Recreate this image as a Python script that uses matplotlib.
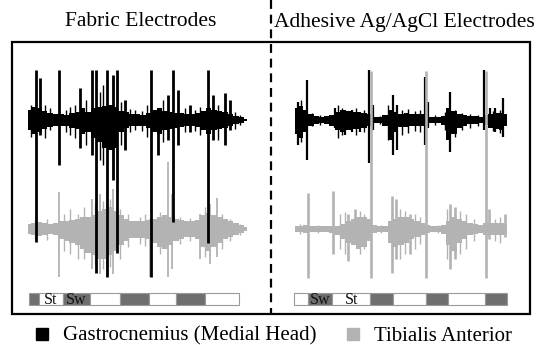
import matplotlib.pyplot as plt
from matplotlib.lines import Line2D
from matplotlib.patches import Rectangle
import numpy as np

plt.rcParams['font.family'] = ['Liberation Serif', 'DejaVu Serif']

# time grid of the envelopes (s), same for both recordings
t_env = np.arange(0, 10.01, 0.25)

# envelope of the dense EMG activity (mV above / below baseline)
fab_gm_up = [0.20, 0.26, 0.24, 0.18, 0.14, 0.12, 0.12, 0.10, 0.14, 0.16,
             0.24, 0.16, 0.24, 0.26, 0.28, 0.30, 0.26, 0.18, 0.16, 0.12,
             0.12, 0.10, 0.14, 0.20, 0.24, 0.18, 0.16, 0.14, 0.14, 0.12,
             0.12, 0.14, 0.18, 0.24, 0.20, 0.18, 0.16, 0.12, 0.08, 0.06, 0.02]
fab_gm_dn = [0.20, 0.28, 0.24, 0.18, 0.14, 0.12, 0.12, 0.12, 0.16, 0.18,
             0.28, 0.24, 0.36, 0.44, 0.56, 0.60, 0.56, 0.24, 0.16, 0.12,
             0.12, 0.12, 0.16, 0.24, 0.28, 0.20, 0.18, 0.16, 0.14, 0.12,
             0.12, 0.14, 0.20, 0.28, 0.20, 0.18, 0.16, 0.12, 0.08, 0.06, 0.02]
fab_ta_up = [0.10, 0.12, 0.14, 0.12, 0.10, 0.12, 0.16, 0.16, 0.18, 0.20,
             0.24, 0.24, 0.28, 0.36, 0.40, 0.44, 0.36, 0.28, 0.20, 0.16,
             0.16, 0.16, 0.18, 0.20, 0.24, 0.28, 0.24, 0.20, 0.18, 0.16,
             0.16, 0.18, 0.28, 0.32, 0.28, 0.24, 0.20, 0.16, 0.12, 0.08, 0.04]
fab_ta_dn = [0.10, 0.12, 0.14, 0.12, 0.10, 0.12, 0.20, 0.24, 0.28, 0.32,
             0.40, 0.48, 0.52, 0.60, 0.60, 0.52, 0.44, 0.32, 0.24, 0.18,
             0.18, 0.18, 0.20, 0.28, 0.36, 0.40, 0.32, 0.24, 0.20, 0.16,
             0.16, 0.20, 0.36, 0.44, 0.36, 0.28, 0.20, 0.16, 0.12, 0.08, 0.04]
adh_gm_up = [0.24, 0.28, 0.20, 0.12, 0.08, 0.06, 0.08, 0.10, 0.16, 0.20,
             0.18, 0.16, 0.16, 0.14, 0.12, 0.06, 0.06, 0.10, 0.20, 0.16,
             0.12, 0.14, 0.12, 0.12, 0.12, 0.06, 0.06, 0.06, 0.08, 0.24,
             0.18, 0.12, 0.10, 0.08, 0.08, 0.06, 0.10, 0.12, 0.14, 0.14, 0.12]
adh_gm_dn = [0.28, 0.36, 0.24, 0.12, 0.08, 0.06, 0.08, 0.12, 0.20, 0.24,
             0.20, 0.18, 0.18, 0.16, 0.12, 0.06, 0.06, 0.12, 0.40, 0.24,
             0.14, 0.14, 0.12, 0.12, 0.12, 0.06, 0.06, 0.06, 0.10, 0.40,
             0.28, 0.16, 0.12, 0.08, 0.08, 0.06, 0.10, 0.16, 0.18, 0.20, 0.12]
adh_ta_up = [0.06, 0.06, 0.08, 0.06, 0.06, 0.06, 0.06, 0.06, 0.06, 0.10,
             0.16, 0.20, 0.24, 0.24, 0.20, 0.08, 0.06, 0.06, 0.16, 0.20,
             0.24, 0.24, 0.20, 0.16, 0.12, 0.08, 0.06, 0.06, 0.08, 0.16,
             0.24, 0.20, 0.16, 0.12, 0.10, 0.08, 0.12, 0.12, 0.12, 0.12, 0.10]
adh_ta_dn = [0.06, 0.06, 0.08, 0.06, 0.06, 0.06, 0.06, 0.08, 0.12, 0.20,
             0.28, 0.32, 0.40, 0.36, 0.24, 0.08, 0.06, 0.06, 0.28, 0.36,
             0.32, 0.28, 0.20, 0.16, 0.12, 0.08, 0.06, 0.06, 0.10, 0.32,
             0.44, 0.28, 0.20, 0.12, 0.10, 0.08, 0.12, 0.12, 0.12, 0.12, 0.10]

# large isolated spikes: time (s), peak up (mV), peak down (mV)
fab_gm_spk_t = [0.37, 0.55, 1.42, 2.37, 2.92, 3.11, 3.61, 3.88, 4.06, 4.43,
                5.62, 5.94, 6.39, 6.62, 6.85, 7.40, 8.22, 8.45, 9.00, 9.22]
fab_gm_spk_up = [1.00, 0.84, 1.00, 0.64, 1.00, 1.00, 1.00, 0.90, 1.00, 0.40,
                 1.00, 0.20, 0.50, 1.00, 0.60, 0.30, 1.00, 0.50, 0.54, 0.40]
fab_gm_spk_dn = [2.44, 0.30, 0.90, 0.56, 0.70, 3.06, 3.14, 1.20, 2.66, 0.60,
                 3.14, 0.70, 0.40, 2.04, 0.50, 0.24, 2.46, 0.40, 0.50, 0.20]
fab_ta_spk_t = [1.42, 2.92, 3.29, 3.61, 3.88, 5.57, 6.39, 6.58, 7.85, 8.31, 8.63]
fab_ta_spk_up = [0.74, 0.60, 0.70, 1.20, 0.80, 0.20, 1.34, 0.70, 0.30, 0.50, 0.62]
fab_ta_spk_dn = [0.96, 0.80, 0.90, 0.96, 0.90, 0.96, 0.96, 0.80, 0.60, 0.70, 0.56]
adh_gm_spk_t = [0.14, 0.57, 1.89, 2.36, 2.69, 3.07, 3.49, 3.68, 4.62, 4.81,
                6.13, 6.27, 7.31, 8.92, 9.20, 9.43, 9.81]
adh_gm_spk_up = [0.36, 0.80, 0.24, 0.20, 0.20, 0.16, 1.00, 0.30, 0.50, 0.30,
                 0.86, 0.36, 0.56, 1.00, 0.24, 0.24, 0.44]
adh_gm_spk_dn = [0.50, 0.80, 0.16, 0.30, 0.24, 0.24, 0.86, 0.20, 0.70, 0.60,
                 0.50, 0.16, 0.64, 0.20, 0.16, 0.24, 0.34]
adh_ta_spk_t = [0.61, 1.79, 2.50, 2.83, 3.58, 4.58, 4.76, 5.42, 6.18, 7.31,
                7.55, 9.01, 9.15, 9.91]
adh_ta_spk_up = [0.72, 0.76, 0.30, 0.40, 3.16, 0.66, 0.60, 0.30, 3.16, 0.50,
                 0.44, 3.16, 0.40, 0.30]
adh_ta_spk_dn = [0.98, 0.50, 0.64, 0.30, 0.98, 0.88, 0.60, 0.50, 0.98, 0.80,
                 0.60, 0.98, 0.20, 0.16]

# small spikes along the edge of the dense activity
fab_gm_min_t = [0.14, 0.78, 1.00, 1.74, 1.92, 2.15, 2.65, 3.29, 3.42, 4.25, 4.66,
                4.89, 5.21, 5.43, 6.16, 7.17, 7.63, 7.85, 8.68, 9.45, 9.68]
fab_gm_min_up = [0.30, 0.30, 0.24, 0.20, 0.26, 0.30, 0.40, 0.56, 0.70, 0.36, 0.22,
                 0.20, 0.18, 0.30, 0.40, 0.24, 0.20, 0.26, 0.30, 0.16, 0.10]
fab_gm_min_dn = [0.34, 0.36, 0.20, 0.24, 0.30, 0.36, 0.50, 0.80, 0.90, 0.50, 0.24,
                 0.20, 0.22, 0.34, 0.44, 0.24, 0.22, 0.30, 0.40, 0.18, 0.10]
fab_ta_min_t = [0.32, 0.87, 1.64, 1.92, 2.28, 2.56, 3.06, 3.42, 3.74, 4.20,
                4.57, 5.11, 5.34, 6.03, 6.94, 7.40, 8.08, 8.86, 9.22, 9.68]
fab_ta_min_up = [0.18, 0.20, 0.30, 0.40, 0.30, 0.44, 0.50, 0.56, 0.60, 0.40,
                 0.30, 0.24, 0.30, 0.34, 0.24, 0.22, 0.44, 0.30, 0.20, 0.10]
fab_ta_min_dn = [0.20, 0.22, 0.44, 0.50, 0.60, 0.60, 0.70, 0.80, 0.76, 0.60,
                 0.36, 0.30, 0.34, 0.50, 0.30, 0.24, 0.56, 0.40, 0.24, 0.12]
adh_gm_min_t = [0.28, 0.80, 1.18, 2.03, 2.22, 2.88, 3.25, 4.01, 4.39, 5.05, 5.33,
                5.66, 5.90, 6.60, 7.08, 7.55, 7.88, 8.25, 8.63, 9.34, 9.67]
adh_gm_min_up = [0.40, 0.14, 0.10, 0.30, 0.24, 0.24, 0.20, 0.08, 0.30, 0.20, 0.22,
                 0.18, 0.20, 0.10, 0.16, 0.20, 0.14, 0.12, 0.10, 0.18, 0.20]
adh_gm_min_dn = [0.44, 0.12, 0.10, 0.36, 0.30, 0.30, 0.24, 0.08, 0.40, 0.30, 0.26,
                 0.22, 0.24, 0.10, 0.20, 0.34, 0.20, 0.16, 0.12, 0.22, 0.26]
adh_ta_min_t = [0.24, 1.08, 2.12, 2.36, 3.07, 3.25, 4.06, 4.95, 5.19, 5.66,
                5.90, 6.75, 7.17, 7.78, 8.07, 8.44, 9.43, 9.67]
adh_ta_min_up = [0.10, 0.08, 0.30, 0.34, 0.36, 0.30, 0.08, 0.40, 0.36, 0.30,
                 0.24, 0.08, 0.40, 0.36, 0.30, 0.20, 0.20, 0.24]
adh_ta_min_dn = [0.10, 0.08, 0.40, 0.50, 0.50, 0.40, 0.08, 0.60, 0.50, 0.40,
                 0.30, 0.08, 0.60, 0.50, 0.40, 0.24, 0.24, 0.28]

# gait phases (start times in s, last entry is the end)
fab_phase_t = [0.05, 0.50, 1.60, 2.83, 4.20, 5.53, 6.76, 8.08, 9.63]
fab_phase = ['Sw', 'St', 'Sw', 'St', 'Sw', 'St', 'Sw', 'St']
fab_phase_lbl = ['', 'St', 'Sw', '', '', '', '', '']
adh_phase_t = [-0.05, 0.61, 1.75, 3.54, 4.62, 6.18, 7.22, 8.96, 10.0]
adh_phase = ['St', 'Sw', 'St', 'Sw', 'St', 'Sw', 'St', 'Sw']
adh_phase_lbl = ['', 'Sw', 'St', '', '', '', '', '']

TA_OFFSET = -2.18
GM_COLOR = '#000000'
TA_COLOR = '#b3b3b3'
SW_COLOR = '#6f6f6f'

W, H = 536, 345
fig = plt.figure(figsize=(W / 100, H / 100), dpi=100)
fig.patch.set_facecolor('white')


def px_rect(x0, y0, x1, y1):
    return [x0 / W, 1 - y1 / H, (x1 - x0) / W, (y1 - y0) / H]


def spikes(ax, t, up, dn, offset, color, lw, z):
    ax.vlines(t, offset - np.array(dn), offset + np.array(up),
              color=color, lw=lw, zorder=z)


def draw_trace(ax, up, dn, minor, major, offset, color, lw, z):
    ax.fill_between(t_env, offset + np.array(up), offset - np.array(dn),
                    step='mid', color=color, lw=0, zorder=z)
    spikes(ax, *minor, offset, color, 1.0, z)
    spikes(ax, *major, offset, color, lw, z)


def draw_gait(ax, times, phases, labels):
    for i in range(len(phases)):
        c = SW_COLOR if phases[i] == 'Sw' else 'white'
        ax.barh(0.5, times[i + 1] - times[i], left=times[i], height=1,
                color=c, edgecolor='#9a9a9a', lw=0.8, clip_on=False)
        if labels[i]:
            ax.text((times[i] + times[i + 1]) / 2, 0.45, labels[i],
                    ha='center', va='center', fontsize=11.5, color='#111111')
    ax.set_xlim(0, 10)
    ax.set_ylim(0, 1)
    ax.axis('off')


# fabric electrodes
ax1 = fig.add_axes(px_rect(28, 55, 247, 290))
draw_trace(ax1, fab_ta_up, fab_ta_dn,
           (fab_ta_min_t, fab_ta_min_up, fab_ta_min_dn),
           (fab_ta_spk_t, fab_ta_spk_up, fab_ta_spk_dn),
           TA_OFFSET, TA_COLOR, 1.3, 1)
draw_trace(ax1, fab_gm_up, fab_gm_dn,
           (fab_gm_min_t, fab_gm_min_up, fab_gm_min_dn),
           (fab_gm_spk_t, fab_gm_spk_up, fab_gm_spk_dn),
           0, GM_COLOR, 2.0, 2)
ax1.set_xlim(0, 10)
ax1.set_ylim(-3.4, 1.3)
ax1.axis('off')

# adhesive Ag/AgCl electrodes
ax2 = fig.add_axes(px_rect(295, 55, 507, 290))
draw_trace(ax2, adh_gm_up, adh_gm_dn,
           (adh_gm_min_t, adh_gm_min_up, adh_gm_min_dn),
           (adh_gm_spk_t, adh_gm_spk_up, adh_gm_spk_dn),
           0, GM_COLOR, 1.6, 1)
draw_trace(ax2, adh_ta_up, adh_ta_dn,
           (adh_ta_min_t, adh_ta_min_up, adh_ta_min_dn),
           (adh_ta_spk_t, adh_ta_spk_up, adh_ta_spk_dn),
           TA_OFFSET, TA_COLOR, 1.9, 2)
ax2.set_xlim(0, 10)
ax2.set_ylim(-3.4, 1.3)
ax2.axis('off')

g1 = fig.add_axes(px_rect(28, 293, 247, 305))
draw_gait(g1, fab_phase_t, fab_phase, fab_phase_lbl)
g2 = fig.add_axes(px_rect(295, 293, 507, 305))
draw_gait(g2, adh_phase_t, adh_phase, adh_phase_lbl)

# frame, divider and headings
fig.patches.append(Rectangle((12 / W, 1 - 314 / H), 518 / W, 272 / H,
                             transform=fig.transFigure, fill=False,
                             ec='black', lw=1.6))
fig.lines.append(Line2D([271 / W, 271 / W], [1.0, 1 - 314 / H],
                        transform=fig.transFigure, color='black', lw=1.6,
                        ls=(0, (4, 2.6))))
fig.text(141 / W, 1 - 22 / H, 'Fabric Electrodes', ha='center',
         va='center', fontsize=15.5)
fig.text(404 / W, 1 - 22 / H, 'Adhesive Ag/AgCl Electrodes', ha='center',
         va='center', fontsize=15.5)

handles = [Line2D([], [], ls='', marker='s', markersize=9, color=GM_COLOR),
           Line2D([], [], ls='', marker='s', markersize=9, color=TA_COLOR)]
fig.legend(handles, ['Gastrocnemius (Medial Head)', 'Tibialis Anterior'],
           ncol=2, loc='center', bbox_to_anchor=(272 / W, 1 - 336 / H),
           frameon=False, fontsize=15, handletextpad=0.5,
           columnspacing=1.25, handlelength=1.0, borderpad=0)

fig.savefig('out.png', dpi=100)
